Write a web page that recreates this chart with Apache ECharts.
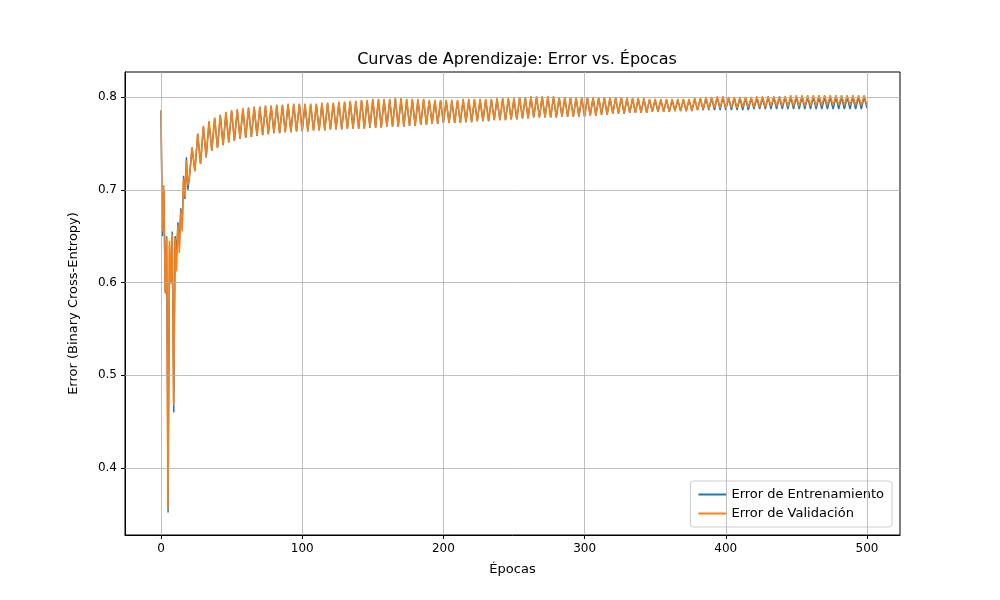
<!DOCTYPE html>
<html><head><meta charset="utf-8">
<script src="https://cdn.jsdelivr.net/npm/echarts@6/dist/echarts.min.js"></script>
<style>html,body{margin:0;background:#fff}#c{width:1000px;height:600px}</style>
</head><body><div id="c"></div>
<script>
const xTicks=[0,100,200,300,400,500];
const yTicks=[0.4,0.5,0.6,0.7,0.8];
// epochs 0..19
const trainEarly=[0.785,0.650,0.700,0.590,0.650,0.352,0.640,0.600,0.655,0.460,0.650,0.630,0.665,0.640,0.680,0.660,0.715,0.690,0.735,0.700];
const valEarly=[0.786,0.655,0.705,0.588,0.648,0.356,0.645,0.598,0.652,0.468,0.648,0.612,0.662,0.632,0.678,0.655,0.712,0.692,0.732,0.705];
// epochs 20,22,...,500 (alternating low/high)
const trainBand=[
.712,.745,.720,.760,.728,.768,.735,.773,.742,.777,.745,.780,.748,.783,.751,.785,.753,.786,.755,.787,
.756,.788,.757,.789,.758,.789,.759,.790,.760,.790,.761,.791,.761,.791,.762,.792,.762,.792,.763,.792,
.763,.792,.763,.792,.764,.792,.764,.793,.764,.793,.765,.793,.765,.794,.765,.794,.766,.795,.766,.795,
.766,.796,.766,.796,.767,.797,.767,.797,.767,.797,.768,.797,.768,.798,.768,.798,.768,.797,.769,.797,
.769,.797,.770,.797,.770,.796,.771,.796,.771,.796,.772,.796,.772,.796,.772,.796,.772,.797,.773,.797,
.773,.797,.774,.797,.774,.797,.774,.797,.775,.798,.775,.798,.775,.798,.776,.798,.776,.799,.777,.799,
.777,.800,.778,.800,.778,.800,.778,.800,.778,.800,.778,.799,.779,.799,.779,.799,.779,.799,.779,.799,
.779,.799,.780,.799,.780,.799,.781,.799,.781,.799,.782,.799,.782,.799,.782,.798,.783,.798,.783,.798,
.783,.798,.783,.797,.784,.797,.784,.797,.784,.797,.784,.797,.785,.797,.785,.797,.785,.797,.785,.798,
.786,.798,.786,.799,.786,.799,.786,.800,.786,.800,.786,.799,.786,.799,.786,.799,.786,.799,.786,.799,
.787,.799,.787,.799,.787,.800,.787,.800,.787,.800,.787,.800,.787,.800,.787,.800,.787,.800,.787,.800,
.787,.800,.787,.800,.787,.800,.787,.800,.787,.800,.787,.800,.787,.800,.787,.800,.787,.800,.787,.800,
.788];
const valBand=[
.712,.746,.720,.761,.728,.769,.735,.774,.742,.778,.745,.781,.748,.784,.751,.786,.753,.787,.755,.788,
.756,.789,.757,.790,.758,.790,.759,.791,.760,.791,.761,.792,.761,.792,.762,.793,.762,.793,.763,.793,
.763,.793,.763,.793,.764,.793,.764,.794,.764,.794,.765,.794,.765,.795,.765,.795,.766,.796,.766,.796,
.766,.797,.766,.797,.767,.798,.767,.798,.767,.798,.768,.798,.768,.799,.768,.799,.768,.798,.769,.798,
.769,.798,.770,.798,.770,.797,.771,.797,.771,.797,.772,.797,.772,.797,.772,.797,.772,.798,.773,.798,
.773,.798,.774,.798,.774,.798,.774,.798,.775,.799,.775,.799,.775,.799,.776,.799,.776,.800,.777,.800,
.777,.801,.778,.801,.778,.801,.778,.801,.778,.801,.778,.800,.779,.800,.779,.800,.779,.800,.779,.800,
.779,.800,.780,.800,.780,.800,.781,.800,.781,.800,.782,.800,.782,.800,.782,.799,.783,.799,.783,.799,
.783,.799,.783,.798,.784,.798,.784,.798,.784,.798,.784,.798,.785,.798,.785,.798,.785,.798,.785,.799,
.786,.799,.787,.800,.787,.800,.788,.801,.788,.801,.788,.800,.788,.800,.788,.800,.789,.800,.789,.800,
.789,.801,.789,.801,.789,.801,.790,.801,.790,.801,.790,.801,.790,.802,.790,.802,.790,.802,.790,.802,
.790,.802,.790,.802,.791,.802,.791,.802,.791,.802,.791,.802,.791,.802,.791,.802,.791,.802,.791,.802,
.791];
const epochs=[];for(let i=0;i<20;i++)epochs.push(i);for(let i=0;i<trainBand.length;i++)epochs.push(20+2*i);
const tr=trainEarly.concat(trainBand).map((v,i)=>[epochs[i],v]);
const va=valEarly.concat(valBand).map((v,i)=>[epochs[i],v]);
const F='DejaVu Sans';
const gl={color:'#b0b0b0',width:0.8,type:'solid'};
const ch=echarts.init(document.getElementById('c'));
ch.setOption({animation:false,textStyle:{fontFamily:F},
title:{text:'Curvas de Aprendizaje: Error vs. Épocas',left:512,top:47,textAlign:'center',textStyle:{fontFamily:F,fontSize:16,fontWeight:'normal',color:'#000'}},
grid:{left:125,right:100,top:72,bottom:65,show:true,borderColor:'#000',borderWidth:1},
xAxis:{type:'value',min:-25.5,max:523.4,name:'Épocas',nameLocation:'middle',nameGap:28,nameTextStyle:{fontSize:13,color:'#000'},
axisLine:{onZero:false,lineStyle:{color:'#000'}},splitLine:{show:false},
axisTick:{show:true,customValues:xTicks,length:4,inside:false,lineStyle:{color:'#000'}},
axisLabel:{customValues:xTicks,color:'#000',fontSize:12}},
yAxis:{type:'value',min:0.3278,max:0.827,name:'Error (Binary Cross-Entropy)',nameLocation:'middle',nameGap:45,nameTextStyle:{fontSize:13,color:'#000'},
axisLine:{show:true,onZero:false,lineStyle:{color:'#000'}},splitLine:{show:false},
axisTick:{show:true,customValues:yTicks,length:4,lineStyle:{color:'#000'}},
axisLabel:{customValues:yTicks,color:'#000',fontSize:12,formatter:v=>v.toFixed(1)}},
legend:{orient:'vertical',right:108,bottom:73,backgroundColor:'#fff',borderColor:'#ccc',borderWidth:1,borderRadius:3,padding:[7,8],itemGap:6,itemWidth:28,itemHeight:2,
textStyle:{fontSize:13,color:'#000'},data:[{name:'Error de Entrenamiento',icon:'rect'},{name:'Error de Validación',icon:'rect'}]},
series:[
{type:'line',name:'grid',data:[],silent:true,markLine:{silent:true,symbol:'none',label:{show:false},lineStyle:gl,
 data:xTicks.map(x=>({xAxis:x})).concat(yTicks.map(y=>({yAxis:y})))}},
{type:'line',name:'Error de Entrenamiento',data:tr,showSymbol:false,lineStyle:{width:1.5,color:'#1f77b4'},itemStyle:{color:'#1f77b4'}},
{type:'line',name:'Error de Validación',data:va,showSymbol:false,lineStyle:{width:1.5,color:'#ff7f0e'},itemStyle:{color:'#ff7f0e'}}
]});
</script></body></html>
